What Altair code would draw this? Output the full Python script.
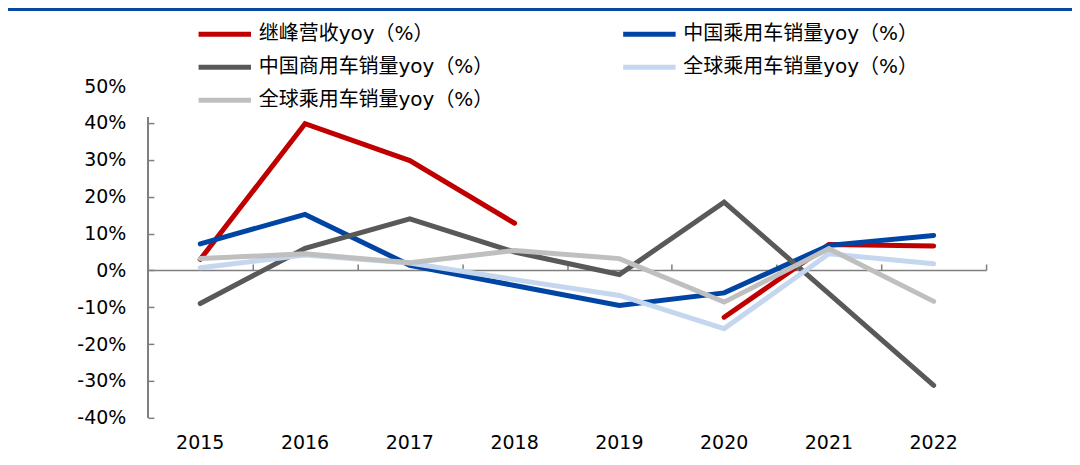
import altair as alt
import pandas as pd

years = ["2015", "2016", "2017", "2018", "2019", "2020", "2021", "2022"]
keys = ["s1", "s2", "s3", "s4", "s5"]
names = ["继峰营收yoy（%）", "中国乘用车销量yoy（%）", "中国商用车销量yoy（%）",
         "全球乘用车销量yoy（%）", "全球乘用车销量yoy（%）"]
colors = ["#C00000", "#0044A4", "#595959", "#C5D7EE", "#BFBFBF"]

jifeng = [3.0, 39.8, 29.8, 12.8, None, -12.7, 7.0, 6.6]
cn_pv = [7.2, 15.2, 1.4, -4.1, -9.5, -6.1, 6.8, 9.5]
cn_cv = [-9.0, 6.0, 14.0, 5.0, -1.1, 18.5, -6.3, -31.2]
gl_pv1 = [0.7, 4.2, 2.0, -2.5, -6.8, -15.8, 4.5, 1.8]
gl_pv2 = [3.2, 4.5, 2.1, 5.4, 3.2, -8.6, 5.9, -8.4]

y_labels = [-40, -30, -20, -10, 0, 10, 20, 30, 40, 50]
y_ticks = [-40, -30, -20, -10, 0, 10, 20, 30, 40]

series = [jifeng, cn_pv, cn_cv, gl_pv1, gl_pv2]
rows = []
for k, vals in zip(keys, series):
    for yr, v in zip(years, vals):
        rows.append({"year": yr, "key": k, "value": v})
df = pd.DataFrame(rows)

FONT = "DejaVu Sans, Noto Sans CJK SC"
W, H = 839, 332

label_expr = " : ".join(
    [f"datum.label == '{k}' ? '{n}'" for k, n in zip(keys[:-1], names[:-1])]
) + f" : '{names[-1]}'"

xscale = alt.Scale(domain=years, paddingInner=0, paddingOuter=0)
yscale = alt.Scale(domain=[-40, 50], nice=False, zero=False)

lines = alt.Chart(df).mark_line(
    strokeWidth=5, strokeCap="round", strokeJoin="miter",
    invalid="break-paths-show-domains"
).encode(
    x=alt.X("year:N", scale=xscale, sort=years,
            axis=alt.Axis(title=None, domain=False, ticks=False, labelAngle=0,
                          labelFont=FONT, labelFontSize=19, labelColor="#000000",
                          labelPadding=16)),
    y=alt.Y("value:Q", scale=yscale,
            axis=alt.Axis(title=None, values=y_labels, domain=False, ticks=False,
                          grid=False, labelExpr="datum.value + '%'",
                          labelFont=FONT, labelFontSize=19, labelColor="#000000",
                          labelPadding=22)),
    color=alt.Color("key:N",
                    scale=alt.Scale(domain=keys, range=colors),
                    legend=alt.Legend(
                        title=None, orient="none", legendX=64, legendY=-65,
                        direction="horizontal",
                        columns=2, columnPadding=119, rowPadding=10,
                        symbolType="M-2.5,0H2.5", symbolStrokeWidth=5, symbolSize=441,
                        labelFont=FONT, labelFontSize=20, labelColor="#000000",
                        labelOffset=21, labelLimit=400, padding=0,
                        labelExpr=label_expr)),
    order=alt.Order("key:N"),
)

# zero line with upward ticks at band edges
zero_axis = alt.Chart(df).mark_line(opacity=0).encode(
    x=alt.X("year:N", scale=xscale, sort=years,
            axis=alt.Axis(title=None, orient="top", offset=-184, labels=False,
                          tickBand="extent", domainColor="#7F7F7F", domainWidth=1.5,
                          tickColor="#7F7F7F", tickWidth=1.5, tickSize=6)),
    y=alt.Y("value:Q", scale=yscale, axis=None),
)

# y-axis line with inward ticks
yaxis_rule = alt.Chart(df).mark_rule(color="#7F7F7F", strokeWidth=1.5).encode(
    x=alt.value(0),
    y=alt.datum(-40, scale=yscale,
                axis=alt.Axis(title=None, orient="right", offset=-W, values=y_ticks,
                              labels=False, domain=False, grid=False,
                              tickColor="#7F7F7F", tickWidth=1.5, tickSize=6)),
    y2=alt.datum(41.5),
)

top_band = alt.Chart(df).mark_rule(color="#0A47A1", strokeWidth=3.5).encode(
    x=alt.value(-140), x2=alt.value(W + 94), y=alt.value(-77)
)

chart = alt.layer(top_band, yaxis_rule, zero_axis, lines).resolve_axis(
    x="independent", y="independent"
).properties(
    width=W, height=H,
    autosize=alt.AutoSizeParams(type="none"),
    padding={"left": 140, "top": 78, "right": 86, "bottom": 47},
).configure_view(stroke=None).configure_axis(grid=False)

chart.save("out.html", embed_options={"renderer": "svg", "actions": False})
